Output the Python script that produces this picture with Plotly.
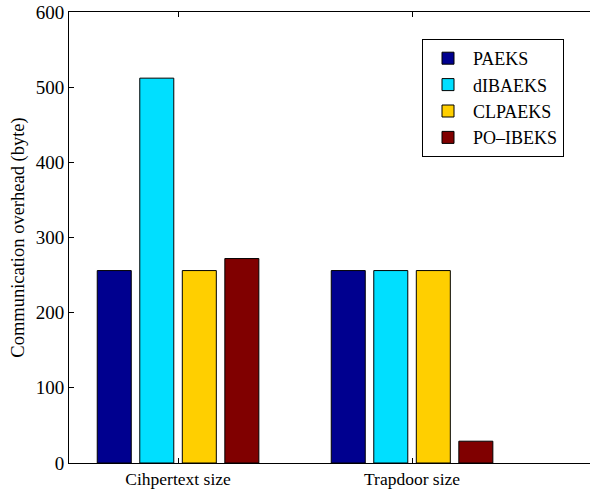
import plotly.graph_objects as go

categories = ["Cihpertext size", "Trapdoor size"]
schemes = ["PAEKS", "dIBAEKS", "CLPAEKS", "PO\u2013IBEKS"]
values = {
    "PAEKS": [256, 256],
    "dIBAEKS": [512, 256],
    "CLPAEKS": [256, 256],
    "PO\u2013IBEKS": [272, 29],
}
colors = ["#00008F", "#00DFFF", "#FFCF00", "#800000"]
yticks = [0, 100, 200, 300, 400, 500, 600]

xpos = [1, 2]
fig = go.Figure()
for name, col in zip(schemes, colors):
    fig.add_trace(go.Bar(
        x=xpos, y=values[name], name=name,
        marker=dict(color=col, line=dict(color="black", width=1)),
    ))

W, H = 590, 495
ml, mr, mt, mb = 69, 0, 12, 32
pxu = 234.0
xr0 = 0.534
xr1 = xr0 + (W - ml - mr) / pxu
fig.update_layout(
    width=W, height=H,
    margin=dict(l=ml, r=mr, t=mt, b=mb, autoexpand=False),
    paper_bgcolor="white", plot_bgcolor="white",
    barmode="group", bargap=0.273, bargroupgap=0.2,
    font=dict(family="Liberation Serif, Times New Roman, serif", color="black", size=17),
    legend=dict(
        x=(422 - ml) / (W - ml - mr), y=(H - mb - 39) / (H - mb - mt),
        xanchor="left", yanchor="top",
        bordercolor="black", borderwidth=1, bgcolor="white",
        font=dict(size=18), tracegroupgap=0, itemwidth=40,
    ),
    xaxis=dict(
        range=[xr0, xr1], tickvals=xpos, ticktext=categories,
        showline=True, linecolor="black", linewidth=1, mirror="ticks",
        ticks="inside", ticklen=5, tickcolor="black", automargin=False,
        showgrid=False, zeroline=False, tickfont=dict(size=17.5),
    ),
    yaxis=dict(
        range=[0, 600], tickvals=yticks, automargin=False,
        showline=True, linecolor="black", linewidth=1, mirror=False,
        ticks="inside", ticklen=5, tickcolor="black",
        showgrid=False, zeroline=False, tickfont=dict(size=19),
        title=dict(text="Communication overhead (byte)", font=dict(size=18.5), standoff=6),
    ),
)
fig.write_html(
    "out.html",
    config={"displayModeBar": False},
    post_script="document.body.style.margin='0';document.body.style.overflow='hidden';",
)
